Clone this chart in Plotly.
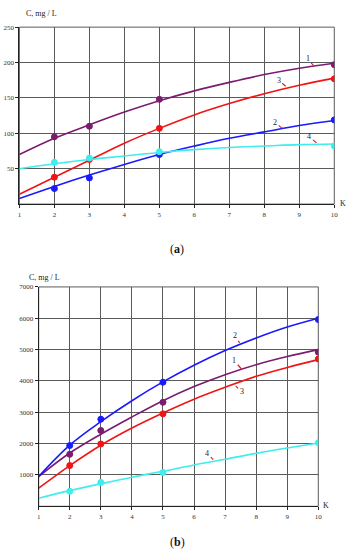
import plotly.graph_objects as go

# K values
k_fit = [1, 2, 3, 4, 5, 6, 7, 8, 9, 10]
k_obs = [2, 3, 5, 10]

# (a) fitted curves (read at K = 1..10)
a_fit_1 = [70, 93, 112, 130, 146, 160, 172, 183, 192, 199]
a_fit_2 = [8, 25, 41, 56, 70, 82, 93, 102, 111, 118]
a_fit_3 = [14, 38, 62, 86, 107, 126, 142, 156, 168, 178]
a_fit_4 = [50, 57, 63, 68, 73, 77, 80, 82, 84, 85]
# (a) measured points
a_obs_1 = [95, 110, 148, 197]
a_obs_2 = [22, 37, 70, 119]
a_obs_3 = [38, 63, 107, 177]
a_obs_4 = [59, 65, 74, 82]

# (b) fitted curves
b_fit_1 = [950, 1700, 2300, 2850, 3370, 3820, 4200, 4520, 4780, 5000]
b_fit_2 = [950, 1950, 2700, 3370, 3970, 4500, 4970, 5370, 5720, 6000]
b_fit_3 = [580, 1300, 1950, 2500, 2980, 3420, 3800, 4150, 4430, 4680]
b_fit_4 = [260, 500, 720, 930, 1120, 1320, 1500, 1690, 1860, 2020]
# (b) measured points
b_obs_1 = [1660, 2420, 3320, 4920]
b_obs_2 = [1940, 2780, 3960, 5960]
b_obs_3 = [1300, 1990, 2950, 4700]
b_obs_4 = [480, 760, 1080, 2030]

x_ticks = [1, 2, 3, 4, 5, 6, 7, 8, 9, 10]
a_yticks = [50, 100, 150, 200, 250]
b_yticks = [1000, 2000, 3000, 4000, 5000, 6000, 7000]

PURPLE = "#7b1c70"
BLUE = "#1a1aff"
RED = "#f01414"
CYAN = "#40ecec"
SERIF = "Liberation Serif"

fig = go.Figure()

series = [
    ("x", "y", k_fit, a_fit_1, a_obs_1, PURPLE),
    ("x", "y", k_fit, a_fit_3, a_obs_3, RED),
    ("x", "y", k_fit, a_fit_2, a_obs_2, BLUE),
    ("x", "y", k_fit, a_fit_4, a_obs_4, CYAN),
    ("x2", "y2", k_fit, b_fit_4, b_obs_4, CYAN),
    ("x2", "y2", k_fit, b_fit_3, b_obs_3, RED),
    ("x2", "y2", k_fit, b_fit_1, b_obs_1, PURPLE),
    ("x2", "y2", k_fit, b_fit_2, b_obs_2, BLUE),
]
for xa, ya, kx, fit, obs, col in series:
    fig.add_trace(go.Scatter(x=kx, y=fit, mode="lines", line=dict(color=col, width=1.6, shape="spline"),
                             xaxis=xa, yaxis=ya, hoverinfo="skip"))
    fig.add_trace(go.Scatter(x=k_obs, y=obs, mode="markers",
                             marker=dict(color=col, size=6, line=dict(color=col, width=1)),
                             xaxis=xa, yaxis=ya))

ax_common = dict(showline=True, linecolor="#222", linewidth=1, mirror=False,
                 showgrid=True, gridcolor="#5a5a5a", gridwidth=1, zeroline=False,
                 ticks="outside", ticklen=3, tickcolor="#222",
                 tickfont=dict(family=SERIF, size=7, color="#333"))

fig.update_layout(
    width=358, height=550,
    margin=dict(l=0, r=0, t=0, b=0),
    paper_bgcolor="white", plot_bgcolor="white",
    showlegend=False, hovermode=False,
    xaxis=dict(ax_common, domain=[0.0494, 0.944], range=[1, 10], tickvals=x_ticks, anchor="y"),
    yaxis=dict(ax_common, domain=[0.6335, 0.9576], range=[0, 250], tickvals=a_yticks, anchor="x"),
    xaxis2=dict(ax_common, domain=[0.1042, 0.8986], range=[1, 10], tickvals=x_ticks, anchor="y2"),
    yaxis2=dict(ax_common, domain=[0.08, 0.4818], range=[0, 7000], tickvals=b_yticks, anchor="x2"),
)

# plot frame (top / right edges)
for xr, yr in (("x domain", "y domain"), ("x2 domain", "y2 domain")):
    fig.add_shape(type="rect", xref=xr, yref=yr, x0=0, x1=1, y0=0, y1=1,
                  line=dict(color="#5a5a5a", width=1), layer="below")

annos = []
txt = dict(family=SERIF, size=8, color="#222")
# curve labels with short red leaders
labels = [
    ("x", "y", 9.41, 195.5, "1", -6, -7),
    ("x", "y", 8.61, 166.5, "3", -7, -6),
    ("x", "y", 8.51, 107, "2", -7, -6),
    ("x", "y", 9.49, 86.5, "4", -7, -6),
    ("x2", "y2", 7.47, 5216, "2", -5, -7),
    ("x2", "y2", 7.52, 4390, "1", -7, -8),
    ("x2", "y2", 7.34, 3841, "3", 6, 6),
    ("x2", "y2", 6.62, 1492, "4", -6, -6),
]
for xr, yr, lx, ly, t, dx, dy in labels:
    annos.append(dict(xref=xr, yref=yr, x=lx, y=ly, text=t, showarrow=True, arrowhead=0,
                      arrowwidth=1.2, arrowcolor="#e02020", ax=dx, ay=dy, font=txt, standoff=0))

annos += [
    dict(xref="paper", yref="paper", x=22 / 358, y=1 - 10 / 550, text="C, mg / L", showarrow=False,
         xanchor="left", yanchor="middle", font=dict(family=SERIF, size=8, color="#222")),
    dict(xref="paper", yref="paper", x=346.5 / 358, y=1 - 201 / 550, text="K", showarrow=False,
         xanchor="center", yanchor="middle", font=dict(family=SERIF, size=8, color="#222")),
    dict(xref="paper", yref="paper", x=178 / 358, y=1 - 246.5 / 550, text="(<b>a</b>)", showarrow=False,
         xanchor="center", yanchor="middle", font=dict(family=SERIF, size=12, color="#111")),
    dict(xref="paper", yref="paper", x=25 / 358, y=1 - 275 / 550, text="C, mg / L", showarrow=False,
         xanchor="left", yanchor="middle", font=dict(family=SERIF, size=8, color="#222")),
    dict(xref="paper", yref="paper", x=330 / 358, y=1 - 505 / 550, text="K", showarrow=False,
         xanchor="center", yanchor="middle", font=dict(family=SERIF, size=8, color="#222")),
    dict(xref="paper", yref="paper", x=178 / 358, y=1 - 541.5 / 550, text="(<b>b</b>)", showarrow=False,
         xanchor="center", yanchor="middle", font=dict(family=SERIF, size=12, color="#111")),
]
fig.update_layout(annotations=annos)

# page body has a default 8px margin; drop it so the figure sits at the window origin
fig.write_html("out.html", config={"displayModeBar": False},
               post_script="document.body.style.margin='0px';")
